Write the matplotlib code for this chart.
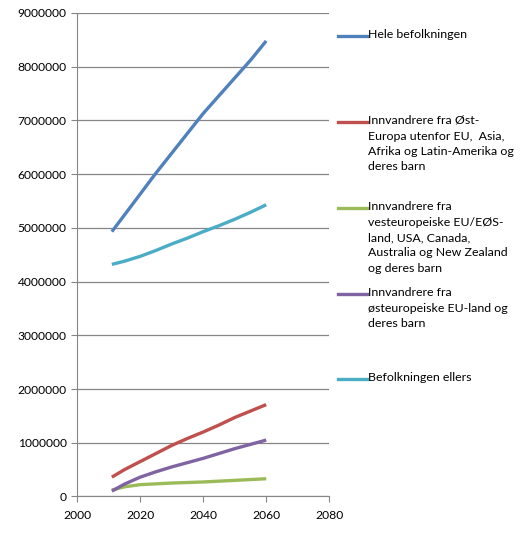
import matplotlib.pyplot as plt
from matplotlib.lines import Line2D
from matplotlib.ticker import StrMethodFormatter

plt.rcParams['font.family'] = ['Lato', 'DejaVu Sans']

years = [2011, 2015, 2020, 2025, 2030, 2035, 2040, 2045, 2050, 2055, 2060]

hele = [4930000, 5240000, 5630000, 6020000, 6390000, 6760000, 7130000,
        7460000, 7790000, 8120000, 8480000]
ost_utenfor = [360000, 500000, 650000, 800000, 950000, 1080000, 1200000,
               1330000, 1470000, 1590000, 1710000]
vest = [120000, 180000, 220000, 235000, 250000, 260000, 270000, 285000,
        300000, 315000, 330000]
ost_eu = [100000, 230000, 360000, 460000, 550000, 630000, 710000, 800000,
          890000, 970000, 1050000]
ellers = [4320000, 4380000, 4470000, 4580000, 4700000, 4810000, 4930000,
          5040000, 5160000, 5290000, 5430000]

labels = [
    "Hele befolkningen",
    "Innvandrere fra Øst-\nEuropa utenfor EU,  Asia,\nAfrika og Latin-Amerika og\nderes barn",
    "Innvandrere fra\nvesteuropeiske EU/EØS-\nland, USA, Canada,\nAustralia og New Zealand\nog deres barn",
    "Innvandrere fra\nøsteuropeiske EU-land og\nderes barn",
    "Befolkningen ellers",
]
colors = ['#4F81BD', '#C0504D', '#9BBB59', '#8064A2', '#4BACC6']
series = [hele, ost_utenfor, vest, ost_eu, ellers]

fig = plt.figure(figsize=(5.2, 5.46), dpi=100)
ax = fig.add_axes([0.1485, 0.0907, 0.4846, 0.8855])

for vals, c in zip(series, colors):
    ax.plot(years, vals, color=c, lw=2.4, solid_capstyle='butt')

ax.set_xlim(2000, 2080)
ax.set_ylim(0, 9000000)
ax.set_xticks(range(2000, 2081, 20))
ax.set_yticks(range(0, 9000001, 1000000))
ax.yaxis.set_major_formatter(StrMethodFormatter('{x:.0f}'))
ax.yaxis.grid(True, color='#868686', lw=0.9)
ax.set_axisbelow(True)
for s in ['top', 'right']:
    ax.spines[s].set_visible(False)
for s in ['left', 'bottom']:
    ax.spines[s].set_color('#868686')
ax.tick_params(colors='#868686', labelcolor='black', labelsize=8.7, length=4)
ax.tick_params(axis='x', pad=6)

# legend drawn by hand to get the Excel-like layout
leg_y = [36, 122, 208, 294, 379]
for lab, c, y in zip(labels, colors, leg_y):
    yf = 1 - y / 546
    fig.add_artist(Line2D([338 / 520, 367 / 520], [yf, yf], color=c, lw=2.4))
    fig.text(368 / 520, yf + 7 / 546, lab, fontsize=8.9, va='top', ha='left',
             linespacing=1.5)

fig.savefig('out.png', dpi=100)
